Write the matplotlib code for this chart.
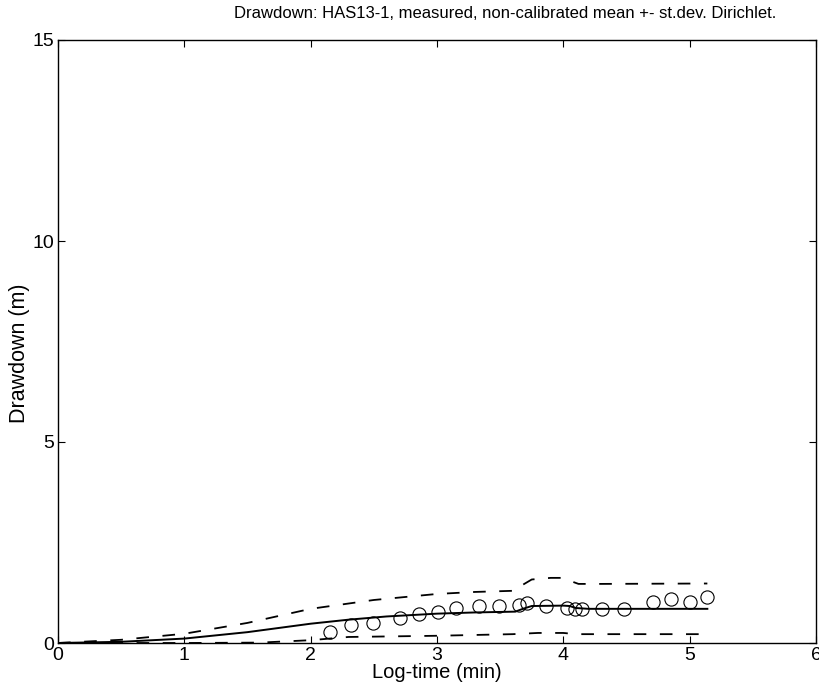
import numpy as np
import matplotlib
matplotlib.use('Agg')
import matplotlib.pyplot as plt

plt.rc('font', family=['Liberation Sans', 'DejaVu Sans'])

# measured drawdown (log-time in min, drawdown in m)
t_meas = [2.15, 2.32, 2.49, 2.71, 2.86, 3.01, 3.15, 3.33, 3.49, 3.65, 3.71,
          3.86, 4.03, 4.09, 4.15, 4.31, 4.48, 4.71, 4.85, 5.00, 5.14]
s_meas = [0.27, 0.45, 0.50, 0.62, 0.73, 0.77, 0.86, 0.92, 0.92, 0.95, 1.00,
          0.92, 0.87, 0.85, 0.85, 0.85, 0.85, 1.03, 1.10, 1.01, 1.15]

# simulated mean
t_mean = [0.0, 0.5, 1.0, 1.5, 2.0, 2.3, 2.6, 3.0, 3.3, 3.62, 3.68, 3.75,
          4.0, 4.05, 4.1, 4.2, 5.14]
s_mean = [0.0, 0.03, 0.11, 0.27, 0.48, 0.58, 0.66, 0.73, 0.76, 0.78, 0.85, 0.92,
          0.93, 0.92, 0.87, 0.85, 0.85]

# mean + st.dev.
t_up = [0.0, 0.5, 1.0, 1.5, 2.0, 2.5, 3.0, 3.3, 3.62, 3.68, 3.75, 3.9,
        4.0, 4.05, 4.12, 4.3, 5.14]
s_up = [0.0, 0.08, 0.23, 0.50, 0.85, 1.07, 1.22, 1.27, 1.30, 1.45, 1.58, 1.62,
        1.62, 1.55, 1.47, 1.47, 1.48]

# mean - st.dev.
t_lo = [0.0, 1.0, 1.6, 2.0, 2.3, 3.0, 3.6, 3.8, 4.0, 4.1, 5.14]
s_lo = [0.0, 0.0, 0.01, 0.07, 0.15, 0.18, 0.22, 0.25, 0.25, 0.22, 0.22]

fig = plt.figure(figsize=(8.19, 6.93), dpi=100)
ax = fig.add_axes([58/819., 50/693., 758/819., 603/693.])

ax.plot(t_mean, s_mean, 'k-', lw=1.4)
ax.plot(t_up, s_up, 'k-', lw=1.3, dashes=(7, 7.5))
ax.plot(t_lo, s_lo, 'k-', lw=1.3, dashes=(7, 7.5))
ax.plot(t_meas, s_meas, 'o', mfc='none', mec='k', mew=0.8, ms=9.5)

ax.set_xlim(0, 6)
ax.set_ylim(0, 15)
ax.set_xticks([0, 1, 2, 3, 4, 5, 6])
ax.set_yticks([0, 5, 10, 15])
ax.tick_params(direction='in', top=True, right=True, labelsize=14, length=5, width=0.8, pad=3)
for s in ax.spines.values():
    s.set_linewidth(1.0)

ax.set_xlabel('Log-time (min)', fontsize=14.5, labelpad=-1)
ax.set_ylabel('Drawdown (m)', fontsize=15.5)
ax.yaxis.set_label_coords(-0.037, 0.48)
fig.text(505/819., 1 - 14/693., 'Drawdown: HAS13-1, measured, non-calibrated mean +- st.dev. Dirichlet.',
         ha='center', va='center', fontsize=12)

fig.savefig('out.png', dpi=100)
